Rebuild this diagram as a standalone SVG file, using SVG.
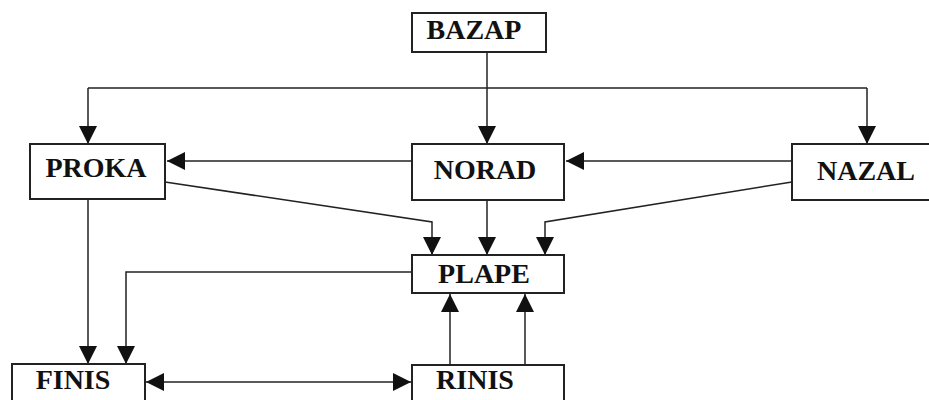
<svg xmlns="http://www.w3.org/2000/svg" width="929" height="400" viewBox="0 0 929 400">
<style>
.box{fill:#fff;stroke:#222;stroke-width:2}
.lbl{font-family:"Liberation Serif","Times New Roman",serif;font-weight:bold;font-size:28px;fill:#111;text-anchor:middle}
.ln{fill:none;stroke:#222;stroke-width:1.5}
</style>
<defs>
<marker id="ah" markerWidth="20" markerHeight="20" refX="18" refY="9" orient="auto" markerUnits="userSpaceOnUse">
<path d="M0,0 L18,9 L0,18 Z" fill="#111"/>
</marker>
<marker id="ahs" markerWidth="20" markerHeight="20" refX="1" refY="9" orient="auto" markerUnits="userSpaceOnUse">
<path d="M19,0 L1,9 L19,18 Z" fill="#111"/>
</marker>
</defs>
<rect width="929" height="400" fill="#fff"/>
<g id="connectors">
<path class="ln" d="M487,52 V144" marker-end="url(#ah)"/>
<path class="ln" d="M88,88 H867"/>
<path class="ln" d="M88,88 V144" marker-end="url(#ah)"/>
<path class="ln" d="M867,88 V144" marker-end="url(#ah)"/>
<path class="ln" d="M412,161 H167" marker-end="url(#ah)"/>
<path class="ln" d="M792,161 H566" marker-end="url(#ah)"/>
<path class="ln" d="M165,182 L432,222 V255" marker-end="url(#ah)"/>
<path class="ln" d="M487,200 V255" marker-end="url(#ah)"/>
<path class="ln" d="M792,182 L545,222 V255" marker-end="url(#ah)"/>
<path class="ln" d="M412,272 H126 V364" marker-end="url(#ah)"/>
<path class="ln" d="M88,199 V364" marker-end="url(#ah)"/>
<path class="ln" d="M146,382 H411" marker-start="url(#ahs)" marker-end="url(#ah)"/>
<path class="ln" d="M450,365 V294" marker-end="url(#ah)"/>
<path class="ln" d="M525,365 V294" marker-end="url(#ah)"/>
</g>
<g id="BAZAP"><rect class="box" x="412" y="13" width="134" height="39"/><text class="lbl" x="474" y="39">BAZAP</text></g>
<g id="PROKA"><rect class="box" x="30" y="144" width="135" height="55"/><text class="lbl" x="96" y="177">PROKA</text></g>
<g id="NORAD"><rect class="box" x="412" y="144" width="152" height="56"/><text class="lbl" x="485" y="179">NORAD</text></g>
<g id="NAZAL"><rect class="box" x="792" y="144" width="145" height="56"/><text class="lbl" x="866" y="180">NAZAL</text></g>
<g id="PLAPE"><rect class="box" x="412" y="255" width="152" height="38"/><text class="lbl" x="484" y="283">PLAPE</text></g>
<g id="FINIS"><rect class="box" x="12" y="364" width="133" height="45"/><text class="lbl" x="73" y="389">FINIS</text></g>
<g id="RINIS"><rect class="box" x="412" y="365" width="152" height="45"/><text class="lbl" x="475" y="389">RINIS</text></g>
</svg>
